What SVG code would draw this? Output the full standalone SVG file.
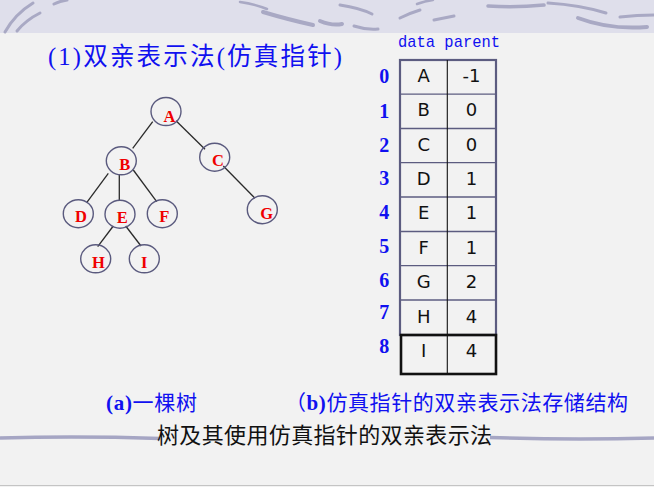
<svg xmlns="http://www.w3.org/2000/svg" width="654" height="487" viewBox="0 0 654 487">
<style>
.sw{fill:none;stroke:#a9a9c4;stroke-linecap:round}
.node{fill:none;stroke:#5a5a7e;stroke-width:1.4}
.nl{font-family:"Liberation Serif",serif;font-weight:bold;font-size:16.5px;fill:#f00000;text-anchor:middle}
.edge{stroke:#2a2a2a;stroke-width:1.3;fill:none}
.idx{font-family:"Liberation Serif",serif;font-weight:bold;font-size:20px;fill:#1010f0;text-anchor:middle}
.cell{font-family:"DejaVu Sans",sans-serif;font-size:18px;fill:#111;text-anchor:middle}
.rl{stroke:#5c5c80;stroke-width:1.3}
.blue{fill:#1010f0}
.cjk{font-family:"Liberation Serif","Noto Sans CJK SC",serif}
</style>
<rect x="0" y="0" width="654" height="487" fill="#f2f2f2"/>
<rect x="0" y="0" width="654" height="33" fill="#dfdfeb"/>
<g id="top-swooshes">
<path class="sw" stroke-width="3" d="M5,32 Q15,14 33,3"/>
<path class="sw" stroke-width="3" d="M17,31 Q26,20 40,13"/>
<path class="sw" stroke-width="3" d="M54,4 Q60,1 67,0"/>
<path class="sw" stroke-width="2.5" d="M240,2 Q255,4 267,9"/>
<path class="sw" stroke-width="4" d="M263,12 Q290,20 313,25"/>
<path class="sw" stroke-width="4" d="M320,21 Q332,26 342,24"/>
<path class="sw" stroke-width="3" d="M354,26 Q366,30 378,29"/>
<path class="sw" stroke-width="3" d="M400,18 Q410,13 420,10"/>
<path class="sw" stroke-width="2.5" d="M417,4 Q425,1 433,0"/>
<path class="sw" stroke-width="3" d="M340,5 Q360,8 372,14"/>
<path class="sw" stroke-width="3.5" d="M488,6 Q515,8 544,5"/>
<path class="sw" stroke-width="3" d="M548,3 Q580,5 606,13"/>
<path class="sw" stroke-width="4" d="M578,18 Q610,30 647,27"/>
<path class="sw" stroke-width="3" d="M620,17 Q637,15 654,15"/>
<path class="sw" stroke-width="3" d="M434,20 Q444,18 454,16"/>
</g>
<path id="bottom-swoosh-left" d="M0,438 Q80,436 160,438.5" fill="none" stroke="#a6a6c4" stroke-width="3.5"/>
<path id="bottom-swoosh-right" d="M490,437.5 Q570,440 654,438" fill="none" stroke="#a6a6c4" stroke-width="3.5"/>
<line x1="0" y1="485.5" x2="654" y2="485.5" stroke="#c4c4c4" stroke-width="1"/>

<text id="title" class="cjk blue" x="48" y="65" font-size="24.5" textLength="294" lengthAdjust="spacing">(1)双亲表示法(仿真指针)</text>

<g id="connectors">
<path class="edge" d="M152.7,121.7 L132.7,148.3"/>
<path class="edge" d="M176,120.7 L205,149.3"/>
<path class="edge" d="M223.3,166 L255,198.3"/>
<path class="edge" d="M108.3,173.3 L86.7,202.7"/>
<path class="edge" d="M119.3,175 L119.3,201"/>
<path class="edge" d="M133.3,170 L156.7,201.7"/>
<path class="edge" d="M113.3,226 L97.7,246.7"/>
<path class="edge" d="M125.7,226 L141,246"/>
</g>

<g id="node-A"><ellipse class="node" cx="166" cy="111.5" rx="15" ry="14"/><text class="nl" x="169.5" y="122.1">A</text></g>
<g id="node-B"><ellipse class="node" cx="121.3" cy="160.8" rx="15" ry="14"/><text class="nl" x="124.7" y="169.8">B</text></g>
<g id="node-C"><ellipse class="node" cx="214.7" cy="157.2" rx="15" ry="14"/><text class="nl" x="218" y="165.6">C</text></g>
<g id="node-D"><ellipse class="node" cx="78.3" cy="213.7" rx="15" ry="14"/><text class="nl" x="81" y="222.3">D</text></g>
<g id="node-E"><ellipse class="node" cx="120" cy="214.2" rx="15" ry="14"/><text class="nl" x="122.3" y="223.1">E</text></g>
<g id="node-F"><ellipse class="node" cx="162.3" cy="213.7" rx="15" ry="14"/><text class="nl" x="164.2" y="222.4">F</text></g>
<g id="node-G"><ellipse class="node" cx="262.3" cy="209.7" rx="15" ry="14"/><text class="nl" x="266.7" y="218.6">G</text></g>
<g id="node-H"><ellipse class="node" cx="95.7" cy="258.8" rx="15" ry="14"/><text class="nl" x="98.5" y="268.3">H</text></g>
<g id="node-I"><ellipse class="node" cx="144.3" cy="258.8" rx="15" ry="14"/><text class="nl" x="144.2" y="268.4">I</text></g>

<g id="table">
<text id="header" x="398" y="47" font-family="Liberation Mono, monospace" font-size="17" fill="#1010f0" textLength="102" lengthAdjust="spacingAndGlyphs">data parent</text>
<g id="table-lines">
<line class="rl" x1="400" y1="94.2" x2="496" y2="94.2"/>
<line class="rl" x1="400" y1="128.5" x2="496" y2="128.5"/>
<line class="rl" x1="400" y1="162.7" x2="496" y2="162.7"/>
<line class="rl" x1="400" y1="197" x2="496" y2="197"/>
<line class="rl" x1="400" y1="231.5" x2="496" y2="231.5"/>
<line class="rl" x1="400" y1="265.7" x2="496" y2="265.7"/>
<line class="rl" x1="400" y1="300" x2="496" y2="300"/>
<rect x="400" y="60" width="96" height="275" fill="none" stroke="#5c5c80" stroke-width="2.2"/>
<line x1="447.3" y1="60" x2="447.3" y2="374" stroke="#111" stroke-width="1.1"/>
<rect x="401" y="335" width="95" height="39" fill="none" stroke="#111" stroke-width="2.6"/>
</g>
<g id="row-0"><text class="idx" x="384.3" y="83">0</text><text class="cell" x="423.7" y="82">A</text><text class="cell" x="471.5" y="82">-1</text></g>
<g id="row-1"><text class="idx" x="384.3" y="118.4">1</text><text class="cell" x="423.7" y="116.2">B</text><text class="cell" x="471.5" y="116.2">0</text></g>
<g id="row-2"><text class="idx" x="384.3" y="151.7">2</text><text class="cell" x="423.7" y="150.5">C</text><text class="cell" x="471.5" y="150.5">0</text></g>
<g id="row-3"><text class="idx" x="384.3" y="185">3</text><text class="cell" x="423.7" y="184.7">D</text><text class="cell" x="471.5" y="184.7">1</text></g>
<g id="row-4"><text class="idx" x="384.3" y="219.4">4</text><text class="cell" x="423.7" y="219">E</text><text class="cell" x="471.5" y="219">1</text></g>
<g id="row-5"><text class="idx" x="384.3" y="252.7">5</text><text class="cell" x="423.7" y="253.5">F</text><text class="cell" x="471.5" y="253.5">1</text></g>
<g id="row-6"><text class="idx" x="384.3" y="286.7">6</text><text class="cell" x="423.7" y="287.7">G</text><text class="cell" x="471.5" y="287.7">2</text></g>
<g id="row-7"><text class="idx" x="384.3" y="319.4">7</text><text class="cell" x="423.7" y="322.5">H</text><text class="cell" x="471.5" y="322.5">4</text></g>
<g id="row-8"><text class="idx" x="384.3" y="352.7">8</text><text class="cell" x="423.7" y="357.3">I</text><text class="cell" x="471.5" y="357.3">4</text></g>
</g>

<text id="caption-a" class="cjk blue" x="106" y="410" font-size="21" textLength="91" lengthAdjust="spacing"><tspan font-weight="bold">(a)</tspan>一棵树</text>
<text id="caption-b" class="cjk blue" x="285" y="410" font-size="21" textLength="343" lengthAdjust="spacing">（<tspan font-weight="bold">b)</tspan>仿真指针的双亲表示法存储结构</text>
<text id="caption-main" class="cjk" x="157" y="443" font-size="22" fill="#111" textLength="335" lengthAdjust="spacing">树及其使用仿真指针的双亲表示法</text>
</svg>
